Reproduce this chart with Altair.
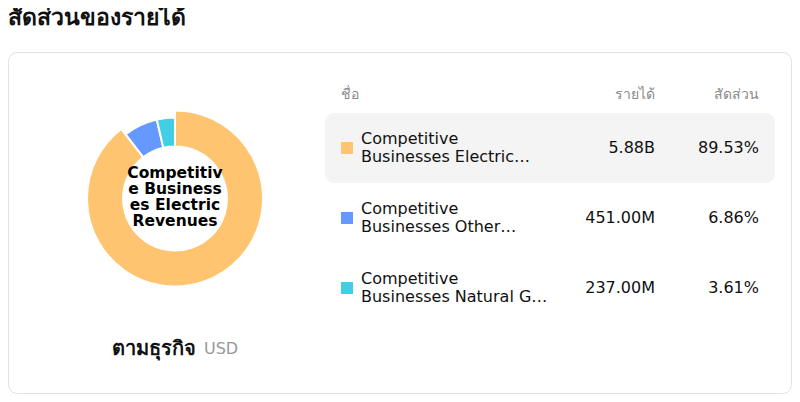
"""
Revenue share card: donut of business segments plus a small table
"""
import pandas as pd
import altair as alt

# data
segments = [
    "Competitive Businesses Electric Revenues",
    "Competitive Businesses Other Revenues",
    "Competitive Businesses Natural Gas Revenues",
]
name_line1 = ["Competitive", "Competitive", "Competitive"]
name_line2 = ["Businesses Electric…", "Businesses Other…", "Businesses Natural G…"]
revenue_labels = ["5.88B", "451.00M", "237.00M"]
shares = [89.53, 6.86, 3.61]
share_labels = ["89.53%", "6.86%", "3.61%"]
colors = ["#FFC470", "#6699FF", "#42CFE6"]
center_lines = ["Competitiv", "e Business", "es Electric", " Revenues"]

FONT = "DejaVu Sans"

df = pd.DataFrame({
    "row": list(range(len(segments))),
    "name": segments,
    "line1": name_line1,
    "line2": name_line2,
    "revenue": revenue_labels,
    "share": shares,
    "share_label": share_labels,
})

color_scale = alt.Scale(domain=segments, range=colors)
row_y = alt.Y("row:Q", scale=alt.Scale(domain=[0, 2], range=[140, 280]), axis=None)

base = alt.Chart(df)
one = alt.Chart(pd.DataFrame({"k": [0]}))

# card background and highlighted first row
card = one.mark_rect(fill="white", stroke="#E2E0EA", strokeWidth=1, cornerRadius=9).encode(
    x=alt.value(0.5), x2=alt.value(783.5), y=alt.value(44.5), y2=alt.value(385.5)
)
highlight = one.mark_rect(fill="#F4F4F4", cornerRadius=9).encode(
    x=alt.value(317), x2=alt.value(767), y=alt.value(105), y2=alt.value(175)
)

title = one.mark_text(align="left", baseline="middle", font=FONT, fontSize=23,
                      fontWeight="bold", color="#111").encode(
    x=alt.value(0), y=alt.value(10), text=alt.value("สัดส่วนของรายได้")
)

# donut; the first slice is drawn again a little larger on top
donut = base.mark_arc(innerRadius=52, radius=81, stroke="white", strokeWidth=2).encode(
    theta=alt.Theta("share:Q", stack=True),
    order=alt.Order("row:Q"),
    color=alt.Color("name:N", scale=color_scale, legend=None),
    x=alt.value(167),
    y=alt.value(190.5),
)
donut_hi = base.mark_arc(innerRadius=52, radius=88, stroke="white", strokeWidth=2).encode(
    theta=alt.Theta("share:Q", stack=True),
    order=alt.Order("row:Q"),
    color=alt.Color("name:N", scale=color_scale, legend=None),
    opacity=alt.condition("datum.row == 0", alt.value(1), alt.value(0)),
    x=alt.value(167),
    y=alt.value(190.5),
)
center = one.mark_text(font=FONT, fontSize=15.5, fontWeight="bold", lineHeight=16,
                       baseline="middle", color="black").encode(
    x=alt.value(167), y=alt.value(165), text=alt.value(center_lines)
)

footer = one.mark_text(align="left", baseline="middle", font=FONT, fontSize=20,
                       fontWeight="bold", color="#111").encode(
    x=alt.value(104), y=alt.value(341), text=alt.value("ตามธุรกิจ")
)
footer_unit = one.mark_text(align="left", baseline="middle", font=FONT, fontSize=16,
                            color="#999").encode(
    x=alt.value(196), y=alt.value(341), text=alt.value("USD")
)

# table header
hdr = dict(baseline="middle", font=FONT, fontSize=14, color="#8A8A8A")
h_name = one.mark_text(align="left", **hdr).encode(x=alt.value(333), y=alt.value(87), text=alt.value("ชื่อ"))
h_rev = one.mark_text(align="right", **hdr).encode(x=alt.value(647), y=alt.value(87), text=alt.value("รายได้"))
h_share = one.mark_text(align="right", **hdr).encode(x=alt.value(751), y=alt.value(87), text=alt.value("สัดส่วน"))

# table rows
swatch = base.mark_square(size=144, opacity=1).encode(
    x=alt.value(339), y=row_y,
    color=alt.Color("name:N", scale=color_scale, legend=None),
)
cell = dict(baseline="middle", font=FONT, fontSize=16, color="#111")
t1 = base.mark_text(align="left", dy=-9, **cell).encode(x=alt.value(353), y=row_y, text="line1:N")
t2 = base.mark_text(align="left", dy=9, **cell).encode(x=alt.value(353), y=row_y, text="line2:N")
t_rev = base.mark_text(align="right", **cell).encode(x=alt.value(647), y=row_y, text="revenue:N")
t_share = base.mark_text(align="right", **cell).encode(x=alt.value(751), y=row_y, text="share_label:N")

chart = alt.layer(
    card, highlight, title, donut, donut_hi, center, footer, footer_unit,
    h_name, h_rev, h_share, swatch, t1, t2, t_rev, t_share,
).properties(
    width=784, height=386, padding=0, autosize=alt.AutoSizeParams(type="none")
).configure_view(stroke=None)

chart.save("out.html", embed_options={"renderer": "svg", "actions": False})
